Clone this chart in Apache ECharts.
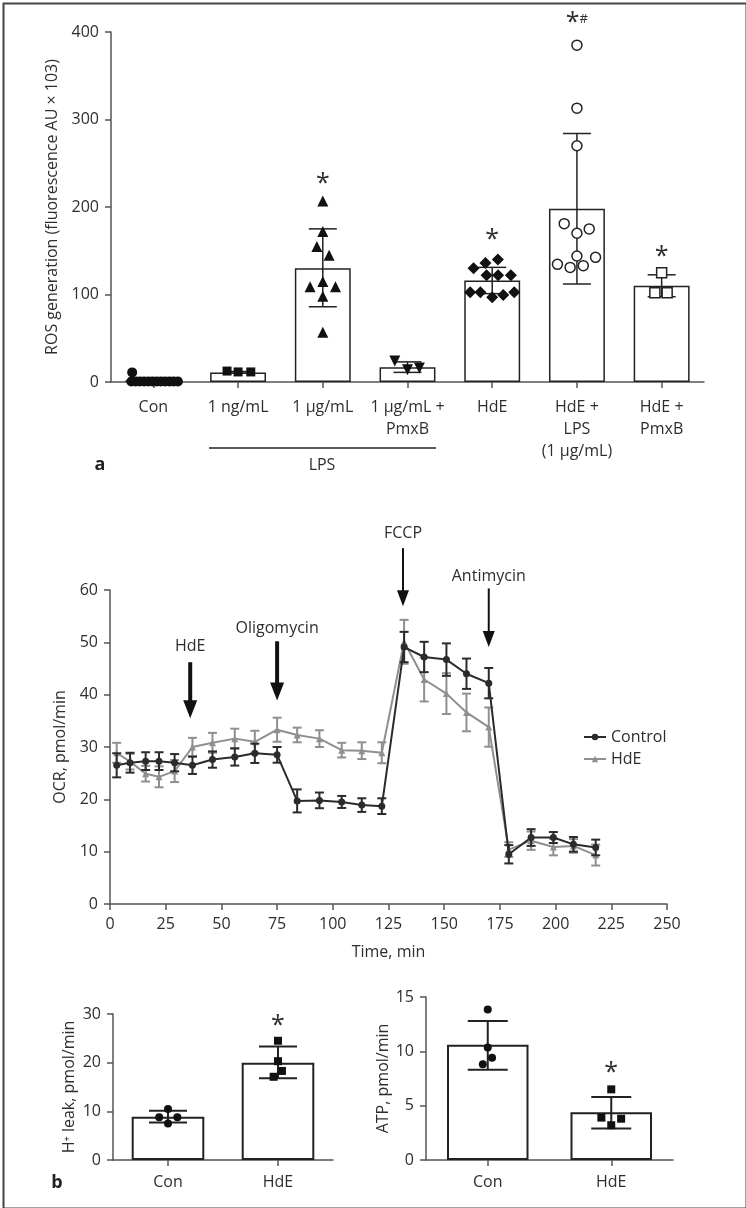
<!DOCTYPE html>
<html>
<head>
<meta charset="utf-8">
<script src="https://cdn.jsdelivr.net/npm/echarts@6/dist/echarts.min.js"></script>
<style>
  html, body { margin: 0; padding: 0; background: #fff; }
  #chart { width: 746px; height: 1208px; }
</style>
</head>
<body>
<div id="chart"></div>
<script>
// ---- panel a: ROS generation ----
const rosCats = ['Con', '1 ng/mL', '1 µg/mL', '1 µg/mL +\nPmxB', 'HdE', 'HdE +\nLPS\n(1 µg/mL)', 'HdE +\nPmxB'];
const rosMean = [2, 11, 130, 17, 116, 198, 110];
const rosLow = [1, 10, 86, 11, 101, 112, 97.5];
const rosHigh = [3, 12, 175, 23, 131, 284, 122.5];
// individual points: [offset inside category, value]
const rosConPts = [[-0.25, 11], [-0.26, 0.5], [-0.21, 0.5], [-0.16, 0.5], [-0.11, 0.5], [-0.06, 0.5], [-0.01, 0.5],
  [0.04, 0.5], [0.09, 0.5], [0.14, 0.5], [0.19, 0.5], [0.24, 0.5], [0.29, 0.5]];
const rosNgPts = [[-0.13, 12.5], [0, 11.5], [0.15, 11.5]];
const rosUgPts = [[0, 207], [0, 172], [-0.07, 155], [0.075, 145], [0, 115], [-0.15, 109], [0.15, 109], [0, 98], [0, 57]];
const rosUgPmxPts = [[-0.15, 24], [0, 14], [0.14, 16]];
const rosHdePts = [[0.067, 140], [-0.08, 136], [-0.22, 130], [-0.067, 122], [0.07, 122], [0.22, 122],
  [-0.26, 102.5], [-0.14, 102.5], [0.26, 102.5], [0.13, 99.5], [0, 97]];
const rosHdeLpsPts = [[0, 385], [0, 313], [0, 270], [-0.15, 181], [0.145, 175], [0, 170], [0, 144],
  [0.22, 142.5], [-0.23, 134.5], [-0.08, 131], [0.075, 133]];
const rosHdePmxPts = [[0, 125], [-0.08, 102], [0.065, 102]];
const starCatA = [2, 4, 5, 6];
const starValA = [227, 163, 410, 143];
const starTxtA = ['*', '*', '*#', '*'];

// ---- panel b: OCR time course ----
const times = [3, 9, 16, 22, 29, 37, 46, 56, 65, 75, 84, 94, 104, 113, 122, 132, 141, 151, 160, 170, 179, 189, 199, 208, 218];
const ctrlMean = [26.5, 27.0, 27.3, 27.3, 27.0, 26.5, 27.6, 28.1, 28.8, 28.5, 19.7, 19.8, 19.5, 18.9, 18.7,
  49.1, 47.2, 46.7, 44.0, 42.2, 9.5, 12.7, 12.7, 11.4, 10.8];
const ctrlSd = [2.3, 1.9, 1.7, 1.7, 1.65, 1.65, 1.56, 1.65, 1.85, 1.5, 2.2, 1.5, 1.15, 1.3, 1.5,
  2.9, 2.9, 3.1, 2.9, 2.9, 1.75, 1.6, 1.05, 1.4, 1.5];
const hdeMean = [28.9, 27.2, 24.9, 24.3, 25.4, 30.0, 30.8, 31.6, 31.0, 33.3, 32.3, 31.6, 29.4, 29.3, 28.9,
  50.1, 42.9, 40.2, 36.6, 33.8, 10.4, 12.1, 10.9, 11.1, 9.35];
const hdeSd = [1.9, 1.5, 1.5, 2.0, 2.1, 1.75, 1.9, 1.9, 2.1, 2.3, 1.4, 1.6, 1.4, 1.6, 2.0,
  4.2, 4.2, 3.9, 3.6, 3.75, 1.4, 1.75, 1.6, 1.3, 2.0];
// injection arrows: time, label y, arrow start, arrow tip
const arrowLabels = ['HdE', 'Oligomycin', 'FCCP', 'Antimycin'];
const arrowTime = [36, 75, 131.5, 170];
const arrowTextY = [49.2, 52.7, 70.8, 62.6];
const arrowTop = [46.2, 50.2, 68, 60.3];
const arrowTip = [35.5, 38.9, 56.9, 49.1];

// ---- panel b: H+ leak and ATP ----
const smallCats = ['Con', 'HdE'];
const leakMean = [8.9, 20.0];
const leakLow = [7.7, 16.8];
const leakHigh = [10.1, 23.3];
const leakConPts = [[0, 10.5], [-0.08, 8.8], [0.085, 8.8], [0, 7.5]];
const leakHdePts = [[0, 24.5], [0, 20.3], [0.036, 18.3], [-0.04, 17.1]];
const atpMean = [10.6, 4.4];
const atpLow = [8.3, 2.9];
const atpHigh = [12.8, 5.8];
const atpConPts = [[0, 13.85], [0, 10.35], [0.035, 9.4], [-0.04, 8.8]];
const atpHdePts = [[0, 6.5], [-0.08, 3.9], [0.08, 3.8], [0, 3.2]];

const ink = '#2e2e2e';
const axisCol = '#555';
const font = 'Open Sans';
const fs = 16;

function errRender(capW, color, lw) {
  return function (params, api) {
    const x = api.value(0);
    const lo = api.coord([x, api.value(1)]);
    const hi = api.coord([x, api.value(2)]);
    const st = { stroke: color, lineWidth: lw };
    return {
      type: 'group', children: [
        { type: 'line', shape: { x1: lo[0], y1: lo[1], x2: hi[0], y2: hi[1] }, style: st },
        { type: 'line', shape: { x1: lo[0] - capW / 2, y1: lo[1], x2: lo[0] + capW / 2, y2: lo[1] }, style: st },
        { type: 'line', shape: { x1: hi[0] - capW / 2, y1: hi[1], x2: hi[0] + capW / 2, y2: hi[1] }, style: st }
      ]
    };
  };
}

function starRender(labels) {
  return function (params, api) {
    const p = api.coord([api.value(0), api.value(1)]);
    const t = labels[params.dataIndex].replace('*', '{s|*}').replace('#', '{h|#}');
    return {
      type: 'text', x: p[0], y: p[1],
      style: {
        text: t, align: 'center', verticalAlign: 'middle', fill: ink,
        rich: { s: { fontSize: 25, fontFamily: font, fill: ink }, h: { fontSize: 13, fontFamily: font, fill: ink, padding: [0, 0, 8, 0] } }
      }
    };
  };
}

function arrowRender(params, api) {
  const i = params.dataIndex;
  const bold = i < 2;
  const pt = api.coord([api.value(0), api.value(1)]);
  const top = api.coord([api.value(0), api.value(2)]);
  const tip = api.coord([api.value(0), api.value(3)]);
  const hw = bold ? 7 : 6, hh = bold ? 18 : 16;
  return {
    type: 'group', children: [
      { type: 'text', x: pt[0], y: pt[1], style: { text: arrowLabels[i], align: 'center', verticalAlign: 'middle', fontSize: fs, fontFamily: font, fill: ink } },
      { type: 'line', shape: { x1: top[0], y1: top[1], x2: tip[0], y2: tip[1] - hh + 2 }, style: { stroke: '#111', lineWidth: bold ? 4 : 2 } },
      { type: 'polygon', shape: { points: [[tip[0] - hw, tip[1] - hh], [tip[0] + hw, tip[1] - hh], [tip[0], tip[1]]] }, style: { fill: '#111' } }
    ]
  };
}

function jitter(groups) {
  return groups.map((g, i) => g.map(p => [i + p[0], p[1]]));
}

function valueAxis(grid, min, max, interval, name, nameGap) {
  return {
    type: 'value', gridIndex: grid, min: min, max: max, interval: interval,
    name: name, nameLocation: 'middle', nameGap: nameGap, nameRotate: 90,
    nameTextStyle: { fontSize: fs, color: ink, fontFamily: font },
    axisLine: { show: true, onZero: false, lineStyle: { color: axisCol, width: 1.5 } },
    axisTick: { show: true, length: 6, lineStyle: { color: axisCol, width: 1.5 } },
    axisLabel: { fontSize: fs, color: ink, margin: 12, fontFamily: font },
    splitLine: { show: false }
  };
}

function catAxis(grid, data, margin, lh) {
  return {
    type: 'category', gridIndex: grid, data: data,
    axisLine: { show: true, onZero: false, lineStyle: { color: axisCol, width: 1.5 } },
    axisTick: { show: true, alignWithLabel: true, length: 6, lineStyle: { color: axisCol, width: 1.5 } },
    axisLabel: { fontSize: fs, color: ink, margin: margin, lineHeight: lh, fontFamily: font, interval: 0 },
    splitLine: { show: false }
  };
}

function hiddenX(grid, n) {
  return { type: 'value', gridIndex: grid, min: -0.5, max: n - 0.5, show: false };
}

const rosGroups = jitter([rosConPts, rosNgPts, rosUgPts, rosUgPmxPts, rosHdePts, rosHdeLpsPts, rosHdePmxPts]);
const leakGroups = jitter([leakConPts, leakHdePts]);
const atpGroups = jitter([atpConPts, atpHdePts]);

function dots(xi, yi, data, symbol, size, filled, rotate) {
  return {
    type: 'scatter', xAxisIndex: xi, yAxisIndex: yi, data: data, symbol: symbol, symbolSize: size,
    symbolRotate: rotate || 0, z: 5,
    itemStyle: filled ? { color: '#111', opacity: 1 } : { color: '#fff', borderColor: '#222', borderWidth: 1.5, opacity: 1 }
  };
}

function bars(xi, yi, data, width) {
  return {
    type: 'bar', xAxisIndex: xi, yAxisIndex: yi, data: data, barCategoryGap: '34%',
    itemStyle: { color: '#fff', borderColor: '#222', borderWidth: width }
  };
}

const chart = echarts.init(document.getElementById('chart'));
chart.setOption({
  animation: false,
  textStyle: { fontFamily: font, color: ink },
  grid: [
    { left: 111, top: 32, width: 593, height: 350 },
    { left: 110, top: 590, width: 557, height: 314 },
    { left: 113, top: 1014, width: 220, height: 146 },
    { left: 426, top: 997, width: 247, height: 163 }
  ],
  xAxis: [
    catAxis(0, rosCats, 14, 22),
    hiddenX(0, 7),
    {
      type: 'value', gridIndex: 1, min: 0, max: 250, interval: 25,
      name: 'Time, min', nameLocation: 'middle', nameGap: 40,
      nameTextStyle: { fontSize: fs, color: ink, fontFamily: font },
      axisLine: { show: true, onZero: false, lineStyle: { color: axisCol, width: 1.5 } },
      axisTick: { show: true, length: 6, lineStyle: { color: axisCol, width: 1.5 } },
      axisLabel: { fontSize: fs, color: ink, margin: 12, fontFamily: font },
      splitLine: { show: false }
    },
    catAxis(2, smallCats, 12, 20),
    hiddenX(2, 2),
    catAxis(3, smallCats, 12, 20),
    hiddenX(3, 2)
  ],
  yAxis: [
    valueAxis(0, 0, 400, 100, 'ROS generation (fluorescence AU × 103)', 48),
    valueAxis(1, 0, 60, 10, 'OCR, pmol/min', 34),
    valueAxis(2, 0, 30, 10, 'H⁺ leak, pmol/min', 36),
    valueAxis(3, 0, 15, 5, 'ATP, pmol/min', 30)
  ],
  legend: {
    data: ['Control', 'HdE'], orient: 'vertical', left: 578, top: 724,
    itemWidth: 22, itemHeight: 8, itemGap: 6,
    textStyle: { fontSize: fs, color: ink, fontFamily: font }
  },
  series: [
    // panel a
    bars(0, 0, rosMean, 1.5),
    { type: 'custom', xAxisIndex: 0, yAxisIndex: 0, renderItem: errRender(28, '#222', 1.5), z: 4,
      data: rosMean.map((v, i) => [i, rosLow[i], rosHigh[i]]) },
    dots(1, 0, rosGroups[0], 'circle', 10, true),
    dots(1, 0, rosGroups[1], 'rect', 9, true),
    dots(1, 0, rosGroups[2], 'triangle', 11, true),
    dots(1, 0, rosGroups[3], 'triangle', 11, true, 180),
    dots(1, 0, rosGroups[4], 'diamond', 12, true),
    dots(1, 0, rosGroups[5], 'circle', 10, false),
    dots(1, 0, rosGroups[6], 'rect', 10, false),
    { type: 'custom', xAxisIndex: 0, yAxisIndex: 0, clip: false, renderItem: starRender(starTxtA),
      data: starCatA.map((c, i) => [c, starValA[i]]) },

    // panel b line chart
    { type: 'custom', xAxisIndex: 2, yAxisIndex: 1, renderItem: errRender(9, '#8f8f8f', 2), z: 2,
      data: times.map((t, i) => [t, hdeMean[i] - hdeSd[i], hdeMean[i] + hdeSd[i]]) },
    { name: 'HdE', type: 'line', xAxisIndex: 2, yAxisIndex: 1, z: 3,
      data: times.map((t, i) => [t, hdeMean[i]]), symbol: 'triangle', symbolSize: 7,
      itemStyle: { color: '#8f8f8f' }, lineStyle: { color: '#8f8f8f', width: 2 } },
    { type: 'custom', xAxisIndex: 2, yAxisIndex: 1, renderItem: errRender(9, '#2b2b2b', 2), z: 4,
      data: times.map((t, i) => [t, ctrlMean[i] - ctrlSd[i], ctrlMean[i] + ctrlSd[i]]) },
    { name: 'Control', type: 'line', xAxisIndex: 2, yAxisIndex: 1, z: 5,
      data: times.map((t, i) => [t, ctrlMean[i]]), symbol: 'circle', symbolSize: 7,
      itemStyle: { color: '#2b2b2b' }, lineStyle: { color: '#2b2b2b', width: 2 } },
    { type: 'custom', xAxisIndex: 2, yAxisIndex: 1, clip: false, renderItem: arrowRender, z: 6,
      data: arrowTime.map((t, i) => [t, arrowTextY[i], arrowTop[i], arrowTip[i]]) },

    // H+ leak
    bars(3, 2, leakMean, 2),
    { type: 'custom', xAxisIndex: 3, yAxisIndex: 2, renderItem: errRender(38, '#222', 2), z: 4,
      data: leakMean.map((v, i) => [i, leakLow[i], leakHigh[i]]) },
    dots(4, 2, leakGroups[0], 'circle', 8, true),
    dots(4, 2, leakGroups[1], 'rect', 8, true),
    { type: 'custom', xAxisIndex: 3, yAxisIndex: 2, clip: false, renderItem: starRender(['*']), data: [[1, 27.5]] },

    // ATP
    bars(5, 3, atpMean, 2),
    { type: 'custom', xAxisIndex: 5, yAxisIndex: 3, renderItem: errRender(40, '#222', 2), z: 4,
      data: atpMean.map((v, i) => [i, atpLow[i], atpHigh[i]]) },
    dots(6, 3, atpGroups[0], 'circle', 8, true),
    dots(6, 3, atpGroups[1], 'rect', 8, true),
    { type: 'custom', xAxisIndex: 5, yAxisIndex: 3, clip: false, renderItem: starRender(['*']), data: [[1, 8.0]] }
  ],
  graphic: [
    { type: 'rect', left: 1, top: 1, shape: { width: 743, height: 1205 }, style: { fill: 'none', stroke: '#444', lineWidth: 2 }, silent: true },
    { type: 'line', shape: { x1: 209, y1: 448, x2: 436, y2: 448 }, style: { stroke: '#222', lineWidth: 1.5 } },
    { type: 'text', x: 322, y: 465, style: { text: 'LPS', align: 'center', verticalAlign: 'middle', fontSize: fs, fontFamily: font, fill: ink } },
    { type: 'text', x: 100, y: 465, style: { text: 'a', align: 'center', verticalAlign: 'middle', fontSize: 18, fontWeight: 'bold', fontFamily: font, fill: '#222' } },
    { type: 'text', x: 57, y: 1183, style: { text: 'b', align: 'center', verticalAlign: 'middle', fontSize: 18, fontWeight: 'bold', fontFamily: font, fill: '#222' } }
  ]
});
</script>
</body>
</html>
